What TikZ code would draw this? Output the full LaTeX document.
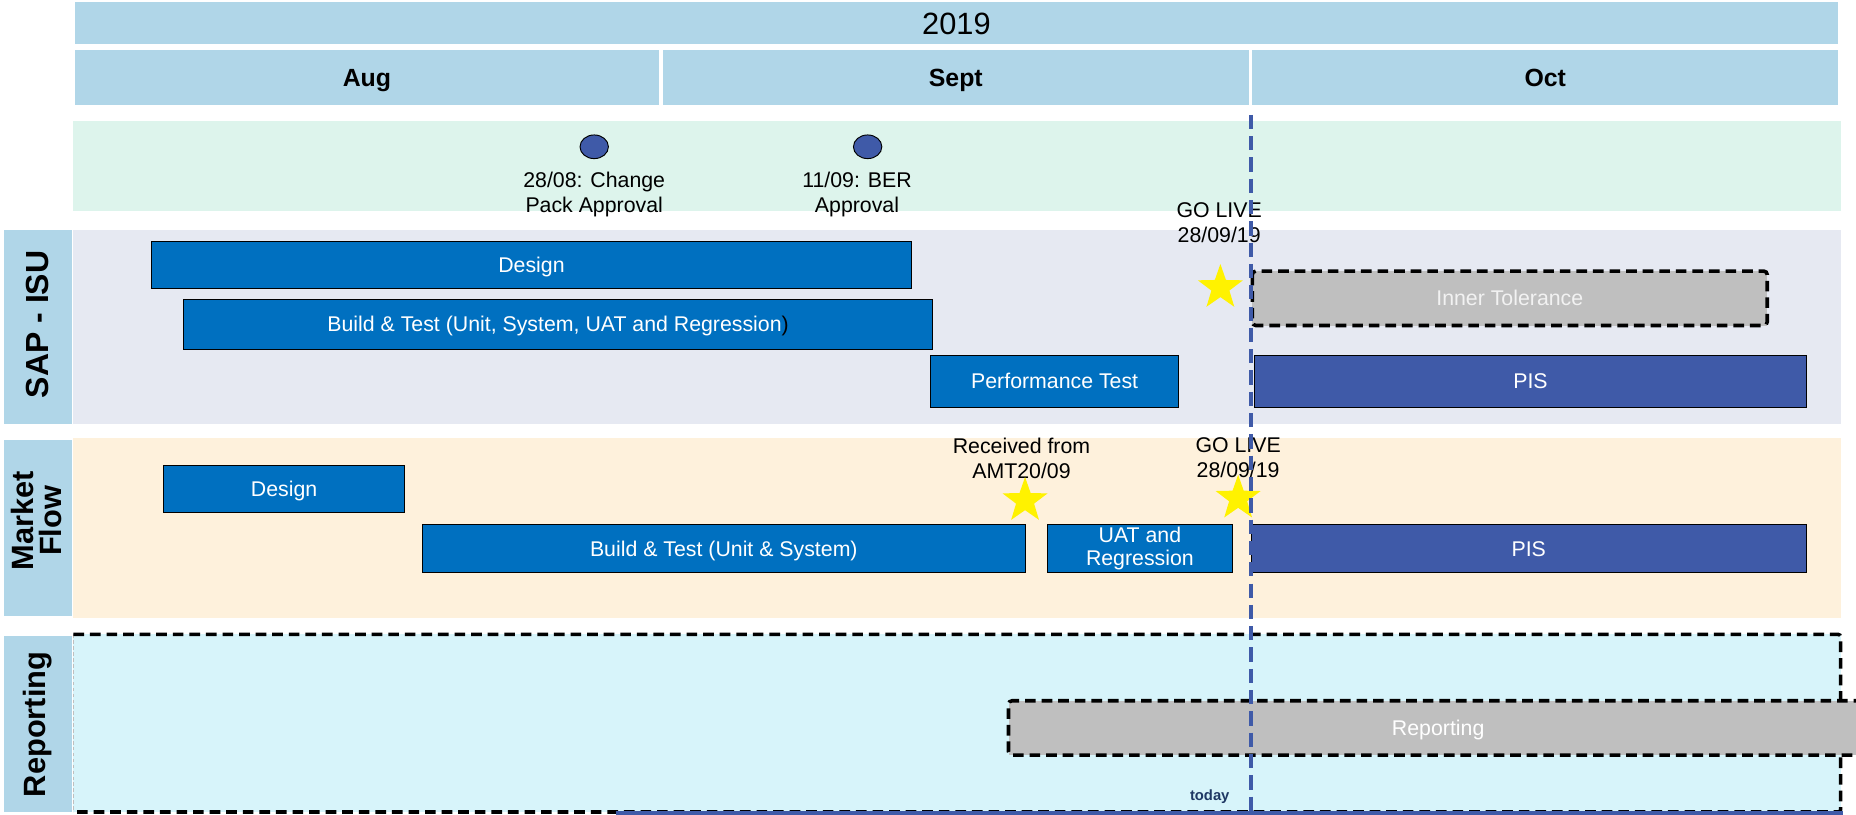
\documentclass[tikz,border=0pt]{standalone}
\usepackage{fontspec}
\setmainfont{Liberation Sans}
\usetikzlibrary{shapes.geometric}
\definecolor{hdr}{RGB}{176,214,232}
\definecolor{msband}{RGB}{221,244,236}
\definecolor{sapband}{RGB}{230,233,242}
\definecolor{mktband}{RGB}{254,241,220}
\definecolor{repband}{RGB}{215,244,250}
\definecolor{barblue}{RGB}{0,112,192}
\definecolor{pisblue}{RGB}{63,90,168}
\definecolor{greybar}{RGB}{191,191,191}
\definecolor{todaytxt}{RGB}{31,56,100}
\begin{document}
\begin{tikzpicture}[x=1pt,y=-1pt,
  capc/.style={text height=12.9pt, text depth=0pt},
  hdrbox/.style={fill=hdr, inner sep=0pt, outer sep=0pt, anchor=north west},
  bar/.style={draw=black, line width=0.8pt, fill=barblue, text=white, inner sep=0pt, outer sep=0pt, anchor=north west, align=center, font=\fontsize{18}{21}\selectfont},
  pisbar/.style={bar, fill=pisblue},
  greybox/.style={fill=greybar, text=white!95!black, inner sep=0pt, outer sep=0pt, anchor=north west, font=\fontsize{18}{21}\selectfont},
  dashline/.style={draw=black, line width=3pt, dash pattern=on 9pt off 5pt, rounded corners=3pt},
  lbl/.style={font=\fontsize{26}{27}\selectfont\bfseries, align=center, rotate=90},
  mtxt/.style={font=\fontsize{18}{21}\selectfont, align=center},
  gostar/.style={star, star points=5, star point ratio=2.5, fill=yellow, draw=none, minimum size=40pt, inner sep=0pt},
  mscirc/.style={ellipse, draw=black, line width=0.8pt, fill=pisblue, minimum width=24pt, minimum height=20pt, inner sep=0pt},
  todayline/.style={draw=pisblue, line width=3.5pt, dash pattern=on 12pt off 6pt}]
\useasboundingbox (0,0) rectangle (1568,688.5);
\fill[white] (0,0) rectangle (1568,688.5);
% header
\node[hdrbox, text height=18.6pt, text depth=0pt, minimum width=1490pt, minimum height=35pt, font=\fontsize{26}{28}\selectfont] (year) at (63,2) {2019};
\node[hdrbox, text height=15pt, text depth=0pt, minimum width=494pt, minimum height=47pt, font=\fontsize{21}{23}\selectfont\bfseries] (aug) at (63,42) {Aug};
\node[hdrbox, text height=15pt, text depth=0pt, minimum width=495pt, minimum height=47pt, font=\fontsize{21}{23}\selectfont\bfseries] (sept) at (560,42) {Sept};
\node[hdrbox, text height=15pt, text depth=0pt, minimum width=495pt, minimum height=47pt, font=\fontsize{21}{23}\selectfont\bfseries] (oct) at (1058,42) {Oct};
% bands
\fill[msband] (62,102) rectangle (1555,178);
\fill[sapband] (62,194) rectangle (1555,358);
\fill[mktband] (62,370) rectangle (1555,522);
\fill[repband] (62,536) rectangle (1555,686);
% left labels
\fill[hdr] (3,194) rectangle (61,358);
\fill[hdr] (3,372) rectangle (61,520);
\fill[hdr] (3,537) rectangle (61,686);
\node[lbl, font=\fontsize{27}{27}\selectfont\bfseries] (lsap) at (32,274) {SAP - ISU};
\node[lbl, font=\fontsize{26}{24}\selectfont\bfseries] (lmkt) at (31,440) {Market\\Flow};
\node[lbl] (lrep) at (32,612) {Reporting};
% milestones
\node[mscirc] (m1) at (502,124) {};
\node[mscirc] (m2) at (733,124) {};
\node[mtxt] (m1t) at (502,164) {28/08: Change\\Pack Approval};
\node[mtxt] (m2t) at (724,164) {11/09: BER\\Approval};
% SAP ISU
\node[bar, capc, minimum width=642pt, minimum height=40pt] (sdes) at (128,204) {Design};
\node[bar, capc, minimum width=633pt, minimum height=42pt] (sbuild) at (155,253) {Build \& Test (Unit, System, UAT and Regression{\color{black})}};
\node[bar, capc, minimum width=210pt, minimum height=44pt] (sperf) at (786,300) {Performance Test};
\node[greybox, capc, minimum width=435pt, minimum height=46pt] (sinner) at (1058,229) {Inner Tolerance};
\draw[dashline] (sinner.north west) rectangle (sinner.south east);
\node[pisbar, capc, minimum width=466pt, minimum height=44pt] (spis) at (1060,300) {PIS};
\node[mtxt] (sgo) at (1030,188) {GO LIVE\\28/09/19};
\node[gostar] (sstar) at (1031,243) {};
% Market flow
\node[bar, capc, minimum width=204pt, minimum height=40pt] (mdes) at (138,393) {Design};
\node[bar, capc, minimum width=509pt, minimum height=41pt] (mbuild) at (357,443) {Build \& Test (Unit \& System)};
\node[bar, minimum width=156pt, minimum height=41pt, font=\fontsize{18}{20}\selectfont] (muat) at (885,443) {UAT and\\Regression};
\node[pisbar, capc, minimum width=469pt, minimum height=41pt] (mpis) at (1057,443) {PIS};
\node[mtxt] (mrec) at (863,387) {Received from\\AMT20/09};
\node[mtxt] (mgo) at (1046,387) {GO LIVE\\28/09/19};
\node[gostar] (mstar1) at (866,423) {};
\node[gostar] (mstar2) at (1046,421) {};
% Reporting
\draw[black!25, line width=0.5pt, dash pattern=on 3pt off 2pt] (62,536) -- (62,686);
\draw[dashline, rounded corners=2pt] (62,536) -- (1555,536) -- (1555,686) -- (62,686);
\node[greybox, minimum width=723pt, minimum height=46pt] (rbar) at (852,592) {};
\node[font=\fontsize{18}{21}\selectfont, text=white, capc] (rtxt) at (1215,615) {Reporting};
\draw[dashline] (rbar.north east) -- (rbar.north west) -- (rbar.south west) -- (rbar.south east);
\coordinate (bl0) at (520,687);
\coordinate (bl1) at (1557,687);
\draw[pisblue, line width=3pt] (bl0) -- (bl1);
% today line
\coordinate (t0) at (1057,97);
\coordinate (t1) at (1057,688.5);
\draw[todayline] (t0) -- (t1);
\node[font=\fontsize{12.5}{14}\selectfont\bfseries, text=todaytxt] (today) at (1022,673) {today};
\end{tikzpicture}
\end{document}
